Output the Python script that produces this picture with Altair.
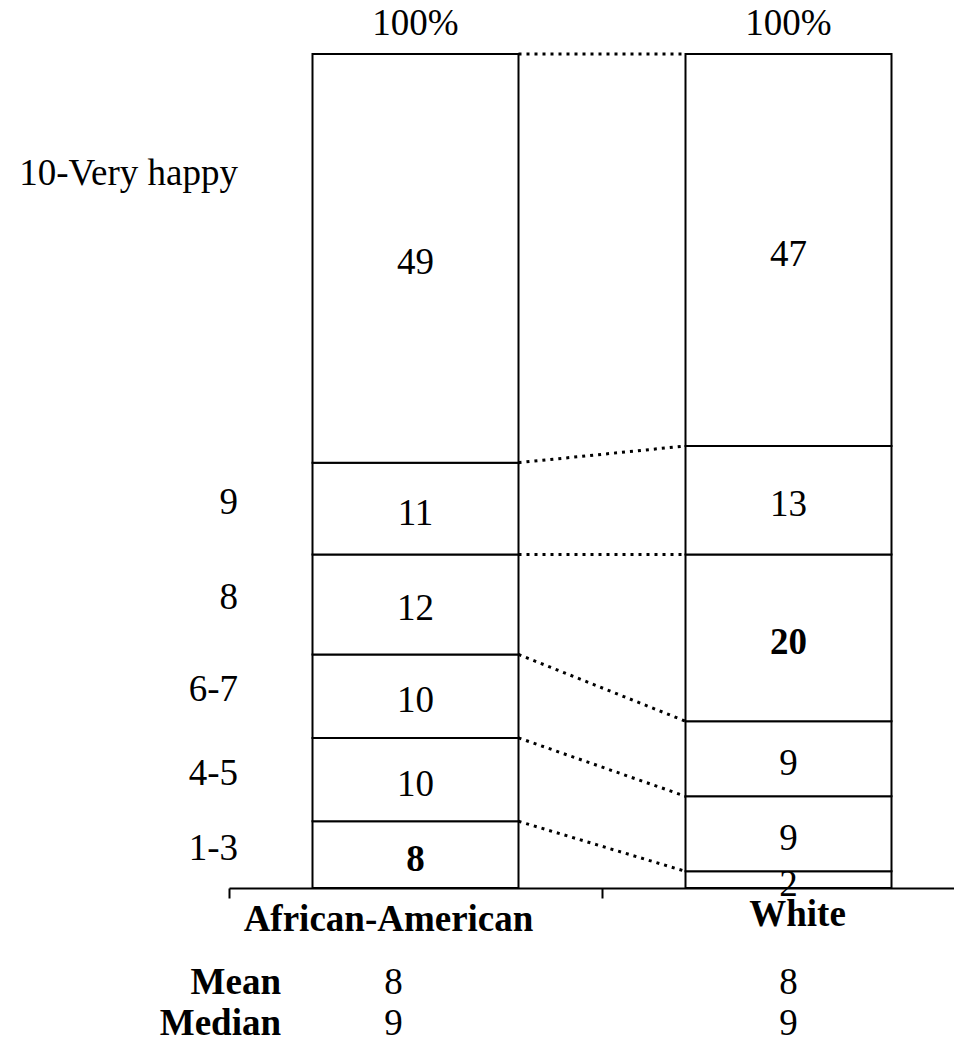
import altair as alt
import pandas as pd

# ---- data ----
groups = ["African-American", "White"]
levels = ["1-3", "4-5", "6-7", "8", "9", "10-Very happy"]
african_american = [8, 10, 10, 12, 11, 49]
white = [2, 9, 9, 20, 13, 47]
bold_cells = [("African-American", "1-3"), ("White", "8")]
stat_names = ["Mean", "Median"]
aa_stats = [8, 9]
white_stats = [8, 9]

FONT = "Liberation Serif"
FS = 37

# ---- tables built from the lists ----
rows = []
for gi, (g, vals) in enumerate(zip(groups, [african_american, white])):
    cum = 0
    for i, (lvl, v) in enumerate(zip(levels, vals)):
        rows.append(dict(group=g, pos=gi + 0.5, level=lvl, order=i, value=v,
                         start=cum, end=cum + v, mid=cum + v / 2,
                         bold=(g, lvl) in bold_cells))
        cum += v
seg = pd.DataFrame(rows)

aa_end = seg[seg.group == groups[0]]["end"].tolist()
w_end = seg[seg.group == groups[1]]["end"].tolist()
conn = pd.DataFrame({"pa": 0.5, "pw": 1.5, "ya": aa_end, "yw": w_end})

tops = seg[seg.order == len(levels) - 1].copy()
tops["label"] = tops["end"].map(lambda v: f"{int(v)}%")

cats = pd.DataFrame({"group": groups, "pos": [0.5, 1.5], "base": [0, 0]})
stats_long = pd.DataFrame([
    dict(stat=s, group=g, pos=gi + 0.5, val=v, base=0)
    for s, a, w in zip(stat_names, aa_stats, white_stats)
    for gi, (g, v) in enumerate(zip(groups, [a, w]))
])
stat_rows = pd.DataFrame({"stat": stat_names, "base": 0})

PLOT_W = 725
# one category = 373 px; plot area runs to the right edge of the page
xscale = alt.Scale(domain=[0, PLOT_W / 373], nice=False, zero=False, padding=0)
yscale = alt.Scale(domain=[0, 100], nice=False, zero=True, padding=0)

xaxis = alt.Axis(labels=False, title="", ticks=True, tickSize=10, tickWidth=2,
                 tickColor="black", domain=True, domainColor="black",
                 domainWidth=2, values=[0, 1, 2], grid=False)

def X(field):
    return alt.X(field, scale=xscale, axis=xaxis)

def Y(field):
    return alt.Y(field, scale=yscale, axis=None)

base = alt.Chart(seg)

bars = base.mark_bar(width=206, fill="white", stroke="black", strokeWidth=2).encode(
    x=X("pos:Q"), y=Y("start:Q"), y2="end:Q",
)

links = alt.Chart(conn).mark_rule(
    strokeDash=[3, 5], strokeWidth=3, color="black", xOffset=103, x2Offset=-103
).encode(
    x=X("pa:Q"), x2="pw:Q", y=Y("ya:Q"), y2="yw:Q",
)

def seg_text(bold):
    return base.transform_filter(
        alt.datum.bold if bold else ~alt.datum.bold
    ).mark_text(font=FONT, fontSize=FS, baseline="middle", dy=5,
                fontWeight="bold" if bold else "normal", color="black").encode(
        x=X("pos:Q"), y=Y("mid:Q"), text=alt.Text("value:Q"),
    )

top_labels = alt.Chart(tops).mark_text(font=FONT, fontSize=FS, baseline="middle",
                                       dy=-30, color="black").encode(
    x=X("pos:Q"), y=Y("end:Q"), text="label:N",
)

aa_only = base.transform_filter(alt.datum.group == groups[0])
left_labels = aa_only.transform_filter(alt.datum.order < len(levels) - 1).mark_text(
    font=FONT, fontSize=FS, baseline="middle", align="right", dy=-6, color="black"
).encode(
    x=alt.value(9), y=Y("mid:Q"), text="level:N",
)
top_left_label = aa_only.transform_filter(alt.datum.order == len(levels) - 1).mark_text(
    font=FONT, fontSize=FS, baseline="middle", align="right", dy=-84, color="black"
).encode(
    x=alt.value(9), y=Y("mid:Q"), text="level:N",
)

cat_layers = []
for g, dx, dy in zip(groups, [-27, 9], [32, 27]):
    cat_layers.append(
        alt.Chart(cats).transform_filter(alt.datum.group == g).mark_text(
            font=FONT, fontSize=FS, fontWeight="bold", baseline="middle",
            dx=dx, dy=dy, color="black"
        ).encode(x=X("pos:Q"), y=Y("base:Q"), text="group:N")
    )

stat_layers = []
for s, dy in zip(stat_names, [95, 136]):
    stat_layers.append(
        alt.Chart(stat_rows).transform_filter(alt.datum.stat == s).mark_text(
            font=FONT, fontSize=FS, fontWeight="bold", baseline="middle",
            align="right", dy=dy, color="black"
        ).encode(x=alt.value(52), y=Y("base:Q"), text="stat:N")
    )
    for g, dx in zip(groups, [-22, 0]):
        stat_layers.append(
            alt.Chart(stats_long).transform_filter(
                (alt.datum.stat == s) & (alt.datum.group == g)
            ).mark_text(
                font=FONT, fontSize=FS, baseline="middle", dx=dx, dy=dy, color="black"
            ).encode(x=X("pos:Q"), y=Y("base:Q"), text=alt.Text("val:Q"))
        )

chart = alt.layer(
    bars, links, seg_text(False), seg_text(True), top_labels,
    left_labels, top_left_label, *cat_layers, *stat_layers
).properties(
    width=PLOT_W, height=834,
    padding={"left": 221, "top": 46, "right": 0, "bottom": 150},
    autosize=alt.AutoSizeParams(type="none"),
    background="white",
).configure_view(stroke=None)

chart.save("out.html", embed_options={"renderer": "svg", "actions": False})
